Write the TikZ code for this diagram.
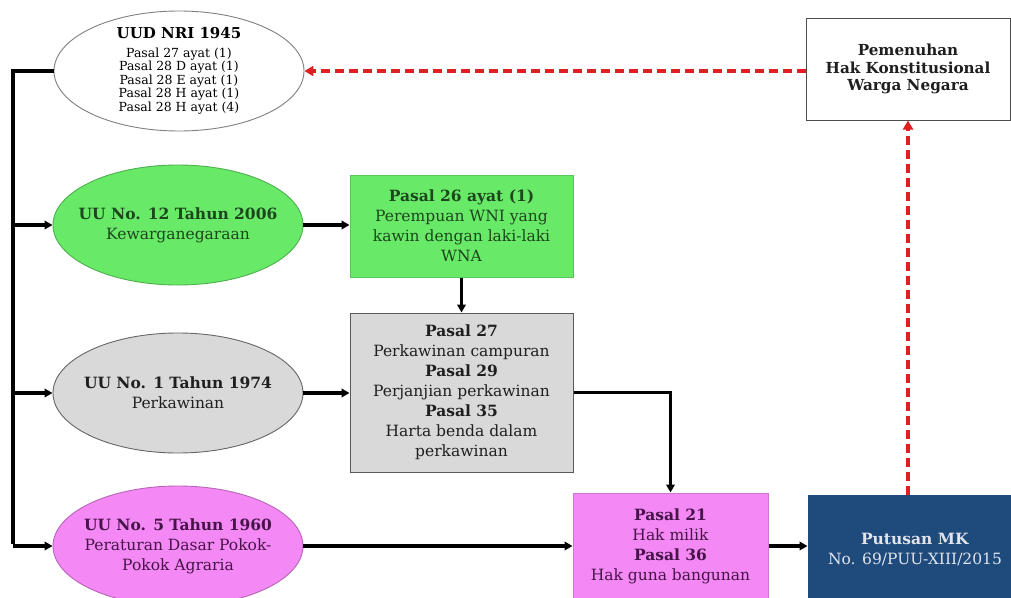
\documentclass[tikz,border=0pt]{standalone}
\usepackage{fontspec}
\setmainfont{DejaVu Serif}
\usetikzlibrary{shapes.geometric,arrows.meta}
\definecolor{gfill}{RGB}{104,234,104}
\definecolor{gtext}{RGB}{28,70,28}
\definecolor{grayfill}{RGB}{217,217,217}
\definecolor{pfill}{RGB}{244,136,244}
\definecolor{ptext}{RGB}{70,20,72}
\definecolor{bfill}{RGB}{31,74,124}
\definecolor{btext}{RGB}{225,228,235}
\definecolor{dred}{RGB}{222,32,36}
\tikzset{
  ell/.style={ellipse, draw=black!55, line width=0.9pt, minimum width=250pt,
    minimum height=120pt, inner sep=-20pt, align=center,
    font=\fontsize{15.5}{20}\selectfont},
  boxn/.style={rectangle, line width=1pt, align=center, inner sep=0pt,
    font=\fontsize{15.5}{20}\selectfont},
  conn/.style={line width=3.2pt, black},
  arr/.style={conn, -{Triangle[length=8pt,width=8.5pt]}},
  reddash/.style={line width=3.2pt, dred, dash pattern=on 9pt off 5pt,
    -{Triangle[length=9pt,width=10pt]}}
}
\begin{document}
\begin{tikzpicture}[x=1pt,y=-1pt]
\useasboundingbox (0,0) rectangle (1011,597);
\clip (0,0) rectangle (1011,597);
\fill[white] (0,0) rectangle (1011,597);

% ellipses
\node[ell, fill=white, draw=black!50, font=\fontsize{12.5}{13.5}\selectfont] (uud) at (179,71)
  {{\fontsize{15}{17}\selectfont\bfseries UUD NRI 1945}\\[5pt]
   Pasal 27 ayat (1)\\
   Pasal 28 D ayat (1)\\
   Pasal 28 E ayat (1)\\
   Pasal 28 H ayat (1)\\
   Pasal 28 H ayat (4)};
\node[ell, fill=gfill, draw=gfill!75!black, text=gtext] (gell) at (178,225)
  {\textbf{UU No. 12 Tahun 2006}\\Kewarganegaraan};
\node[ell, fill=grayfill, draw=black!60, text=black!88] (grell) at (178,393)
  {\textbf{UU No. 1 Tahun 1974}\\Perkawinan};
\node[ell, fill=pfill, draw=pfill!75!black, text=ptext] (pell) at (178,546)
  {\textbf{UU No. 5 Tahun 1960}\\Peraturan Dasar Pokok-\\Pokok Agraria};

% boxes
\node[boxn, fill=gfill, draw=gfill!85!black, text=gtext,
  minimum width=223pt, minimum height=102pt] (gbox) at (461.5,226)
  {\textbf{Pasal 26 ayat (1)}\\Perempuan WNI yang\\kawin dengan laki-laki\\WNA};
\node[boxn, fill=grayfill, draw=black!65, text=black!88,
  minimum width=223pt, minimum height=159pt] (grbox) at (461.5,392.5)
  {\textbf{Pasal 27}\\Perkawinan campuran\\\textbf{Pasal 29}\\Perjanjian perkawinan\\
   \textbf{Pasal 35}\\Harta benda dalam\\perkawinan};
\node[boxn, fill=pfill, draw=pfill!85!black, text=ptext,
  minimum width=195pt, minimum height=107pt] (pbox) at (670.5,546.5)
  {\textbf{Pasal 21}\\Hak milik\\\textbf{Pasal 36}\\Hak guna bangunan};
\node[boxn, fill=bfill, draw=bfill, text=btext,
  minimum width=214pt, minimum height=110pt] (mk) at (915,550)
  {\raisebox{6pt}{\begin{tabular}{@{}c@{}}\textbf{Putusan MK}\\No. 69/PUU-XIII/2015\end{tabular}}};
\node[boxn, fill=white, draw=black!70, text=black!88,
  minimum width=204pt, minimum height=102pt,
  font=\fontsize{15.2}{17.5}\selectfont\bfseries] (pem) at (908,69)
  {Pemenuhan\\Hak Konstitusional\\Warga Negara};

% trunk
\coordinate (t0) at (13,71);
\coordinate (t1) at (13,225);
\coordinate (t2) at (13,393);
\coordinate (t3) at (13,546);
\draw[conn, line join=miter] (uud.west) -- (t0) -- ([yshift=1.6pt]t3);

\draw[arr] (t1) -- (gell.west);
\draw[arr] (t2) -- (grell.west);
\draw[arr] (t3) -- (t3 -| pell.west);

\draw[arr] (gell.east) -- (gell.east -| gbox.west);
\draw[arr] (gbox.south) -- (grbox.north);
\draw[arr] (grell.east) -- (grell.east -| grbox.west);
\draw[arr, line join=miter] (grbox.east) -| (pbox.north);
\draw[arr] (pell.east |- t3) -- (t3 -| pbox.west);
\draw[arr] (pbox.east |- t3) -- (t3 -| mk.west);

\draw[reddash] (pem.south |- mk.north) -- (pem.south);
\draw[reddash] (pem.west |- uud.east) -- (uud.east);
\end{tikzpicture}
\end{document}
